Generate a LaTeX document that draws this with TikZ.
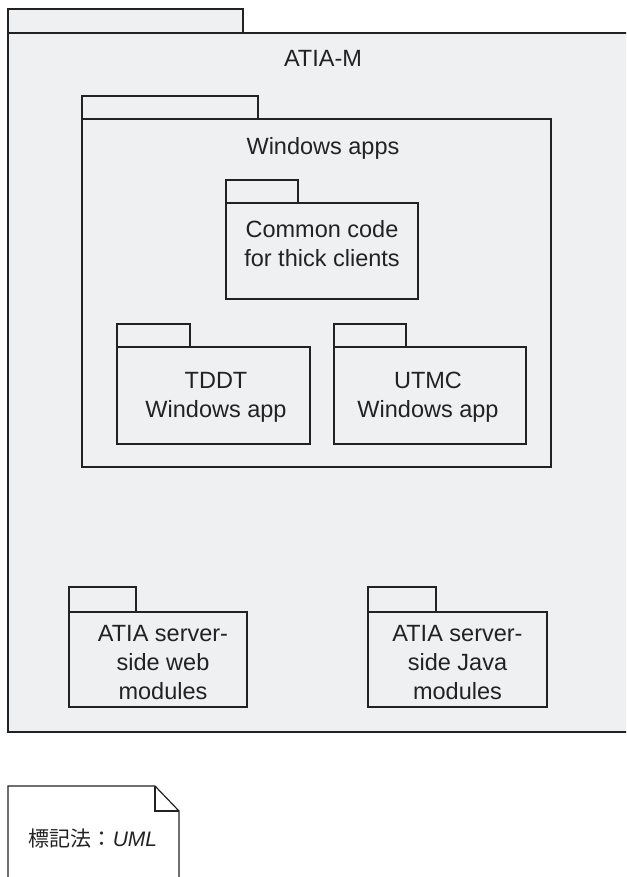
\documentclass[tikz,border=0pt]{standalone}
\usepackage{fontspec}
\setmainfont{Liberation Sans}
\newfontfamily\jpfont{Noto Sans CJK JP}
\definecolor{ink}{HTML}{222222}
\definecolor{pkgfill}{HTML}{EFF0F2}
\begin{document}
\begin{tikzpicture}[x=1pt,y=-1pt,
  pkgtab/.style={draw=ink, fill=pkgfill, line width=1.1pt, anchor=south west,
    inner sep=0pt, outer sep=0pt},
  pkgbody/.style={draw=ink, fill=pkgfill, line width=1.6pt, anchor=north west,
    inner sep=0pt, outer sep=0pt},
  lbl/.style={inner sep=0pt, align=center, text=ink,
    font=\fontsize{23.5}{29}\selectfont, anchor=base},
  notebox/.style={draw=ink, fill=white, line width=1.2pt}]
\useasboundingbox (0,0) rectangle (626,877);
\clip (0,0) rectangle (626,877);

% outer package ATIA-M (its right side runs past the page edge)
\node[pkgtab, minimum width=235pt, minimum height=24pt] (mtab) at (8,33) {};
\node[pkgbody, minimum width=650pt, minimum height=699pt] (m) at (8,33) {};
\node[lbl] (mname) at (323,67) {ATIA-M};

% Windows apps package
\node[pkgtab, minimum width=176pt, minimum height=23pt] (wtab) at (82,119) {};
\node[pkgbody, minimum width=469pt, minimum height=348pt] (w) at (82,119) {};
\node[lbl] (wname) at (323,155) {Windows apps};

% Common code
\node[pkgtab, minimum width=72pt, minimum height=23pt] (ctab) at (226,203) {};
\node[pkgbody, minimum width=192pt, minimum height=96pt] (c) at (226,203) {};
\node[lbl] (cname) at (322,266) {Common code\\for thick clients};

% TDDT
\node[pkgtab, minimum width=73pt, minimum height=23pt] (ttab) at (117,347) {};
\node[pkgbody, minimum width=193pt, minimum height=97pt] (t) at (117,347) {};
\node[lbl] (tname) at (216,417) {TDDT\\Windows app};

% UTMC
\node[pkgtab, minimum width=72pt, minimum height=23pt] (utab) at (334,347) {};
\node[pkgbody, minimum width=192pt, minimum height=97pt] (u) at (334,347) {};
\node[lbl] (uname) at (428,417) {UTMC\\Windows app};

% server-side web modules
\node[pkgtab, minimum width=67pt, minimum height=25pt] (wbtab) at (69,612) {};
\node[pkgbody, minimum width=178pt, minimum height=95pt] (wb) at (69,612) {};
\node[lbl] (wbname) at (163,699) {ATIA server-\\side web\\modules};

% server-side Java modules
\node[pkgtab, minimum width=68pt, minimum height=25pt] (jtab) at (368,612) {};
\node[pkgbody, minimum width=179pt, minimum height=95pt] (j) at (368,612) {};
\node[lbl] (jname) at (457.5,699) {ATIA server-\\side Java\\modules};

% notation note with folded corner
\coordinate (nA) at (8,786);
\coordinate (nB) at (155,786);
\coordinate (nC) at (179,811);
\coordinate (nD) at (179,900);
\coordinate (nE) at (8,900);
\draw[notebox] (nA) -- (nB) -- (nC) -- (nD) -- (nE) -- cycle;
\draw[ink, line width=1.2pt] (nB) |- (nC);
\node[inner sep=0pt, anchor=base, text=ink, font=\fontsize{21}{25}\selectfont]
  (note) at (93,846) {{\jpfont 標記法：}\textit{UML}};
\end{tikzpicture}
\end{document}
